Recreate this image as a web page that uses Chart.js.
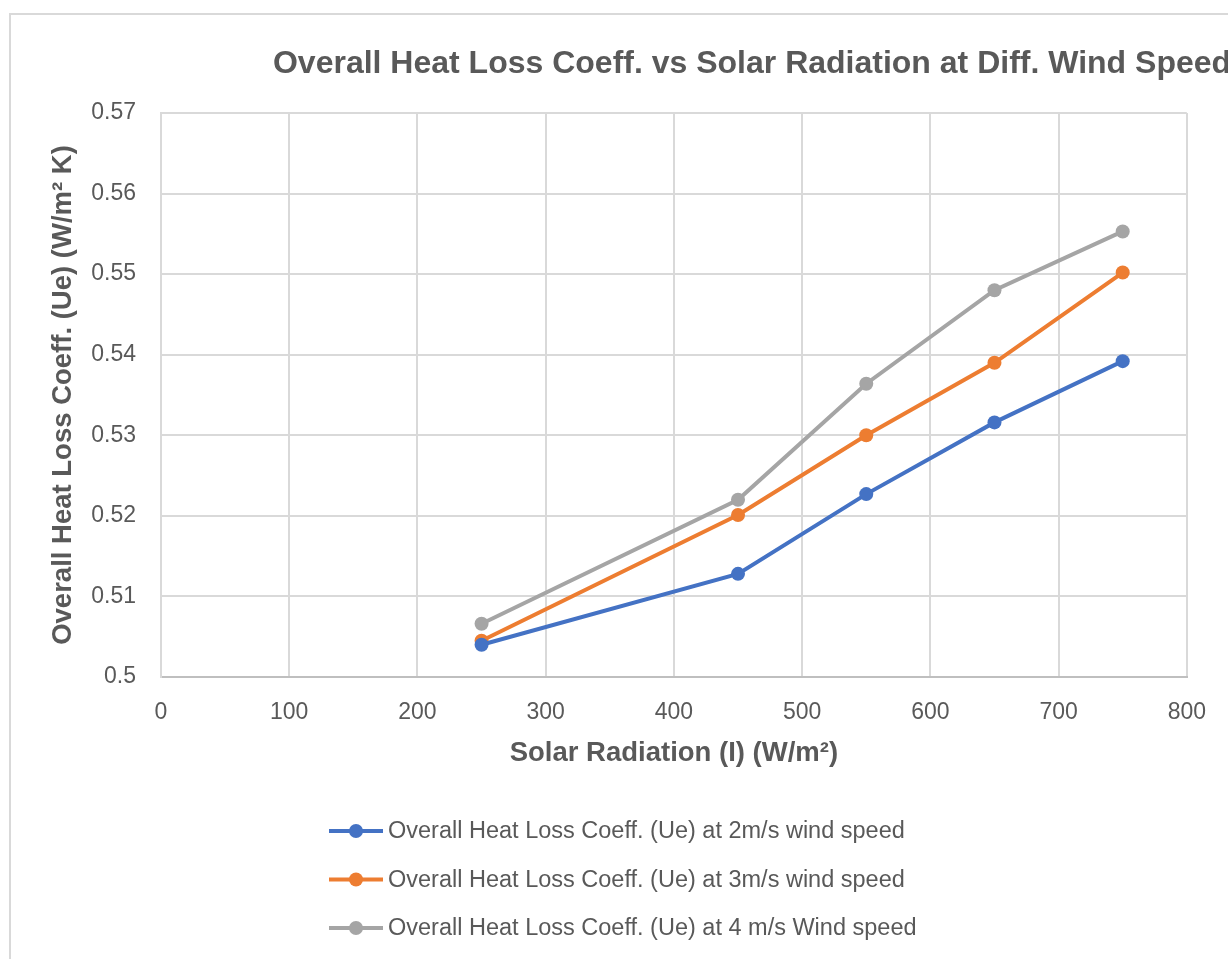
<!DOCTYPE html>
<html>
<head>
<meta charset="utf-8">
<title>Overall Heat Loss Coeff. vs Solar Radiation</title>
<script src="https://cdn.jsdelivr.net/npm/chart.js@4/dist/chart.umd.min.js"></script>
<style>
    body { margin: 0; background: #fff; overflow: hidden; }
    #wrap { position: relative; width: 1228px; height: 959px; }
</style>
</head>
<body>
<div id="wrap"><canvas id="myChart" width="1228" height="959"></canvas></div>
<script>
// data
var radiation = [250, 450, 550, 650, 750];
var ue2 = [0.5040, 0.5128, 0.5227, 0.5316, 0.5392];
var ue3 = [0.5045, 0.5201, 0.5300, 0.5390, 0.5502];
var ue4 = [0.5066, 0.5220, 0.5364, 0.5480, 0.5553];
var seriesNames = [
    'Overall Heat Loss Coeff. (Ue) at 2m/s wind speed',
    'Overall Heat Loss Coeff. (Ue) at 3m/s wind speed',
    'Overall Heat Loss Coeff. (Ue) at 4 m/s Wind speed'
];
var colors = ['#4472C4', '#ED7D31', '#A5A5A5'];
var chartTitle = 'Overall Heat Loss Coeff. vs Solar Radiation at Diff. Wind Speed';
var xTitle = 'Solar Radiation (I) (W/m\u00B2)';
var yTitle = 'Overall Heat Loss Coeff. (Ue) (W/m\u00B2 K)';

var FONT = '"Liberation Sans", Arial, sans-serif';
var TEXT = '#595959';

function points(ys) {
    return radiation.map(function(x, i) { return { x: x, y: ys[i] }; });
}

var datasets = [ue2, ue3, ue4].map(function(ys, i) {
    return {
        label: seriesNames[i],
        data: points(ys),
        borderColor: colors[i],
        backgroundColor: colors[i],
        borderWidth: 4,
        pointRadius: 7,
        pointBorderWidth: 0,
        pointBackgroundColor: colors[i],
        tension: 0
    };
});

// frame, title and legend
var decor = {
    id: 'decor',
    beforeDraw: function(chart) {
        var ctx = chart.ctx;
        ctx.save();
        ctx.strokeStyle = '#d9d9d9';
        ctx.lineWidth = 2;
        ctx.strokeRect(10, 14, 1400, 1200);
        ctx.restore();
    },
    afterDraw: function(chart) {
        var ctx = chart.ctx;
        ctx.save();
        ctx.fillStyle = TEXT;
        ctx.font = 'bold 32px ' + FONT;
        ctx.textAlign = 'center';
        ctx.textBaseline = 'middle';
        ctx.fillText(chartTitle, 752, 64);

        ctx.font = '23.5px ' + FONT;
        ctx.textAlign = 'left';
        for (var i = 0; i < seriesNames.length; i++) {
            var y = 831 + i * 48.5;
            ctx.strokeStyle = colors[i];
            ctx.lineWidth = 4;
            ctx.beginPath();
            ctx.moveTo(329, y);
            ctx.lineTo(383, y);
            ctx.stroke();
            ctx.fillStyle = colors[i];
            ctx.beginPath();
            ctx.arc(356, y, 7, 0, Math.PI * 2);
            ctx.fill();
            ctx.fillStyle = TEXT;
            ctx.fillText(seriesNames[i], 388, y + 1);
        }
        ctx.restore();
    }
};

new Chart(document.getElementById('myChart').getContext('2d'), {
    type: 'line',
    data: { datasets: datasets },
    plugins: [decor],
    options: {
        responsive: false,
        animation: false,
        layout: { padding: { top: 113, left: 47, right: 35, bottom: 189 } },
        plugins: {
            legend: { display: false },
            title: { display: false },
            tooltip: { enabled: false }
        },
        scales: {
            x: {
                type: 'linear',
                min: 0,
                max: 800,
                afterFit: function(scale) { scale.height = 93; },
                ticks: {
                    stepSize: 100,
                    padding: 22,
                    color: TEXT,
                    font: { family: FONT, size: 23 }
                },
                grid: { color: '#d9d9d9', lineWidth: 2, drawTicks: false },
                border: { color: '#bfbfbf', width: 2 },
                title: {
                    display: true,
                    text: xTitle,
                    color: TEXT,
                    font: { family: FONT, size: 27.5, weight: 'bold' },
                    padding: { top: 12, bottom: 0 }
                }
            },
            y: {
                min: 0.5,
                max: 0.57,
                afterFit: function(scale) { scale.width = 114; },
                ticks: {
                    stepSize: 0.01,
                    padding: 25,
                    color: TEXT,
                    font: { family: FONT, size: 23 },
                    callback: function(v) { return String(+v.toFixed(2)); }
                },
                grid: { color: '#d9d9d9', lineWidth: 2, drawTicks: false },
                border: { color: '#d9d9d9', width: 2 },
                title: {
                    display: true,
                    text: yTitle,
                    color: TEXT,
                    font: { family: FONT, size: 27.5, weight: 'bold' },
                    padding: { top: 0, bottom: 0 }
                }
            }
        }
    }
});
</script>
</body>
</html>
